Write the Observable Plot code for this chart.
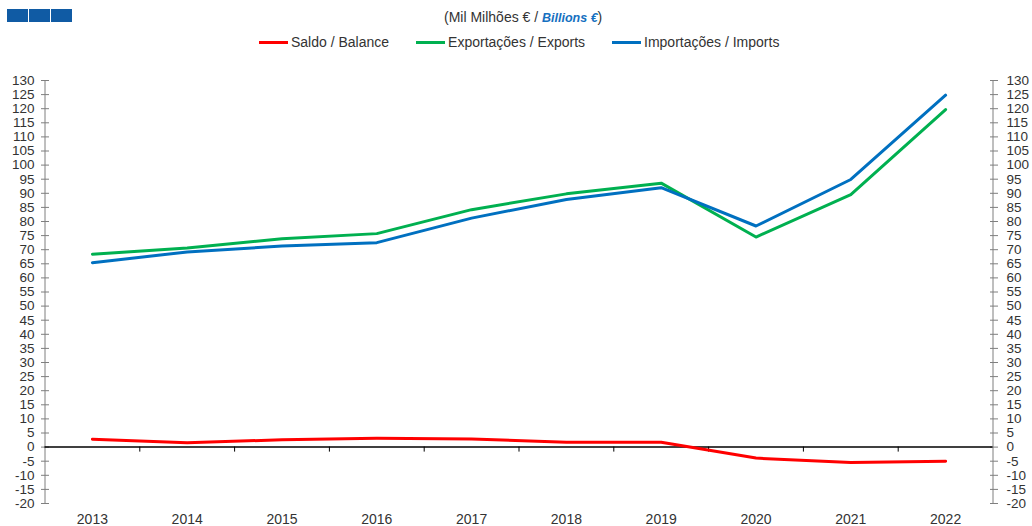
<!DOCTYPE html>
<html><head><meta charset="utf-8">
<script src="https://cdn.jsdelivr.net/npm/d3@7"></script>
<script src="https://cdn.jsdelivr.net/npm/@observablehq/plot@0.6"></script>
<style>
body{margin:0;background:#fff;font-family:"Liberation Sans",Arial,sans-serif;color:#333}
#page{position:relative;width:1032px;height:526px;overflow:hidden}
#hdr{position:relative;width:1032px;height:60px}
.sq{position:absolute;top:9px;width:21px;height:13px;background:#105BA4}
#sub{position:absolute;left:444px;top:8px;font-size:14px;line-height:18px;white-space:nowrap;color:#333}
#sub b{color:#1570C0;font-style:italic;font-size:12.5px}
#legend{position:absolute;left:259px;top:33px;display:flex;align-items:center;font-size:14px;line-height:18px;white-space:nowrap}
.item{display:flex;align-items:center;margin-right:27px}
.sw{width:29px;height:3px;margin-right:3px}
#chart svg{display:block}
g[aria-label="y-axis tick"]{stroke:#7f7f7f}
g[aria-label="y-axis tick label"]{fill:#333;font-family:"Liberation Sans Narrow","Arial Narrow","Liberation Sans",Arial,sans-serif;font-size:13.5px}
g[aria-label="x-axis tick label"]{fill:#333;font-family:"Liberation Sans",Arial,sans-serif;font-size:14px}
</style></head>
<body>
<div id="page">
  <div id="hdr">
    <div class="sq" style="left:7px"></div>
    <div class="sq" style="left:29px"></div>
    <div class="sq" style="left:51px"></div>
    <div id="sub">(Mil Milhões € / <b>Billions €</b>)</div>
    <div id="legend"></div>
  </div>
  <div id="chart"></div>
</div>
<script>
const years = [2013, 2014, 2015, 2016, 2017, 2018, 2019, 2020, 2021, 2022];
const balanceValues = [2.8, 1.5, 2.6, 3.1, 2.9, 1.7, 1.7, -3.9, -5.5, -5.0];
const exportValues = [68.4, 70.6, 73.9, 75.7, 84.2, 89.8, 93.6, 74.5, 89.5, 119.7];
const importValues = [65.4, 69.2, 71.3, 72.5, 81.2, 87.8, 92.0, 78.4, 94.9, 124.8];
const seriesNames = ["Saldo / Balance", "Exportações / Exports", "Importações / Imports"];
const seriesColors = ["#FF0000", "#00B050", "#0070C0"];
const yTicks = d3.range(-20, 131, 5);

const seriesValues = [balanceValues, exportValues, importValues];
const data = seriesNames.flatMap((name, s) =>
  years.map((year, i) => ({year, value: seriesValues[s][i], series: name})));
const edges = [years[0] - 0.5, years[years.length - 1] + 0.5];
const bounds = years.slice(1).map(y => y - 0.5);

const legend = document.getElementById("legend");
seriesNames.forEach((n, i) => {
  const it = document.createElement("div");
  it.className = "item";
  it.innerHTML = `<span class="sw" style="background:${seriesColors[i]}"></span><span>${n}</span>`;
  legend.appendChild(it);
});

const chart = Plot.plot({
  width: 1032,
  height: 466,
  marginTop: 20,
  marginBottom: 23,
  marginLeft: 49,
  marginRight: 43,
  x: {type: "linear", domain: edges, range: [44.5, 992.5]},
  y: {domain: [-20, 130]},
  color: {domain: seriesNames, range: seriesColors},
  style: {background: "#fff", color: "#333", fontFamily: "'Liberation Sans', Arial, sans-serif"},
  marks: [
    Plot.ruleX(edges, {stroke: "#7f7f7f", strokeWidth: 1}),
    Plot.axisY({anchor: "left", ticks: yTicks, tickSize: 8, tickPadding: 7, tickFormat: d => String(d), label: null}),
    Plot.axisY({anchor: "right", ticks: yTicks, tickSize: 8, tickPadding: 9, tickFormat: d => String(d), label: null}),
    Plot.axisX({ticks: years, tickSize: 0, tickPadding: 11, tickFormat: d => String(d), label: null}),
    Plot.ruleY([0], {x1: edges[0], x2: edges[1], stroke: "#000", strokeWidth: 1.5}),
    Plot.ruleX(bounds, {y1: 0, y2: 0, insetBottom: -5, stroke: "#000", strokeWidth: 1}),
    Plot.line(data, {x: "year", y: "value", z: "series", stroke: "series", strokeWidth: 3})
  ]
});
document.getElementById("chart").appendChild(chart);
</script>
</body></html>
